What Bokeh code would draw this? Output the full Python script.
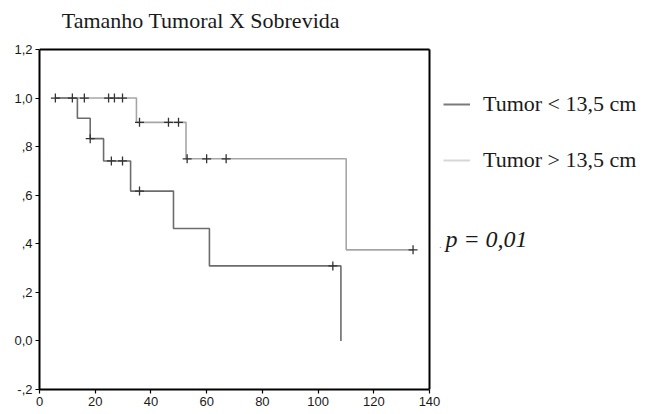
from bokeh.plotting import figure
from bokeh.models import Range1d, FixedTicker, Label, Legend, LegendItem
from bokeh.embed import file_html
from bokeh.resources import INLINE

# ---- data ----
small_time = [5.7, 13.6, 18.2, 23.0, 32.7, 48.1, 61.0, 108.2]
small_surv = [1.0, 0.917, 0.833, 0.741, 0.617, 0.463, 0.309, 0.0]
small_cens_time = [18.2, 25.8, 29.8, 35.9, 105.3]
small_cens_surv = [0.833, 0.741, 0.741, 0.617, 0.309]

large_time = [5.7, 34.8, 52.6, 110.1, 134.1]
large_surv = [1.0, 0.9, 0.75, 0.375, 0.375]
large_cens_time = [5.7, 11.8, 16.1, 24.8, 26.9, 29.8, 35.9, 46.3, 49.9, 53.0, 60.0, 67.0, 134.1]
large_cens_surv = [1.0, 1.0, 1.0, 1.0, 1.0, 1.0, 0.9, 0.9, 0.9, 0.75, 0.75, 0.75, 0.375]

x_ticks = [0, 20, 40, 60, 80, 100, 120, 140]
y_ticks = [-0.2, 0.0, 0.2, 0.4, 0.6, 0.8, 1.0, 1.2]
y_tick_labels = ["-,2", "0,0", ",2", ",4", ",6", ",8", "1,0", "1,2"]
x_min, x_max = 0, 140
y_min, y_max = -0.2, 1.2

title_text = "Tamanho Tumoral X Sobrevida"
label_small = "Tumor < 13,5 cm"
label_large = "Tumor > 13,5 cm"
p_text = "p = 0,01"

DARK = "#6c6c6c"
LIGHT = "#a6a6a6"

# frame extends to the right/top so the legend and texts can live inside it
PX_PER_X = 390 / (x_max - x_min)
PX_PER_Y = 340 / (y_max - y_min)
FRAME_W = 615
FRAME_H = 389
x_end = x_min + FRAME_W / PX_PER_X
y_end = y_min + FRAME_H / PX_PER_Y

p = figure(output_backend="svg", toolbar_location=None,
           frame_width=FRAME_W, frame_height=FRAME_H,
           min_border_left=39, min_border_top=0, min_border_right=0,
           min_border_bottom=24,
           x_range=Range1d(x_min, x_end), y_range=Range1d(y_min, y_end))
p.grid.visible = False
p.outline_line_color = None

for ax in (p.xaxis[0], p.yaxis[0]):
    ax.axis_line_color = "black"
    ax.axis_line_width = 2
    ax.major_tick_line_color = "black"
    ax.major_tick_line_width = 1.2
    ax.major_tick_out = 4
    ax.major_tick_in = 0
    ax.minor_tick_line_color = None
    ax.major_label_text_font = "Liberation Sans"
    ax.major_label_text_font_size = "13px"
    ax.major_label_text_color = "#1a1a1a"
    ax.major_label_standoff = 3

p.xaxis[0].ticker = FixedTicker(ticks=x_ticks)
p.xaxis[0].bounds = (x_min, x_max)
p.yaxis[0].ticker = FixedTicker(ticks=y_ticks)
p.yaxis[0].bounds = (y_min, y_max)
p.yaxis[0].major_label_overrides = {t: l for t, l in zip(y_ticks, y_tick_labels)}

# box top and right edges
p.segment(x0=[x_min, x_max], y0=[y_max, y_min], x1=[x_max, x_max], y1=[y_max, y_max],
          line_color="black", line_width=2)

r_large = p.step(large_time, large_surv, mode="after", line_color=LIGHT, line_width=1.6)
r_small = p.step(small_time, small_surv, mode="after", line_color=DARK, line_width=1.6)
p.scatter(large_cens_time, large_cens_surv, marker="cross", size=9,
          line_color="#333333", line_width=1.3)
p.scatter(small_cens_time, small_cens_surv, marker="cross", size=9,
          line_color="#333333", line_width=1.3)

# legend proxies (placed outside the visible range)
off = [x_end + 50, x_end + 51]
lg_small = p.line(off, [0, 0], line_color="#7a7a7a", line_width=2)
lg_large = p.line(off, [0, 0], line_color="#d6d6d6", line_width=2)
legend = Legend(items=[LegendItem(label=label_small, renderers=[lg_small]),
                       LegendItem(label=label_large, renderers=[lg_large])],
                location=(404, 215), orientation="vertical",
                border_line_alpha=0, background_fill_alpha=0,
                padding=0, margin=0, glyph_width=27, glyph_height=28,
                label_height=28, label_standoff=13, spacing=28,
                label_text_font="Liberation Serif", label_text_font_size="22px",
                label_text_color="#1a1a1a")
p.add_layout(legend, "center")

p.add_layout(Label(x=8.0, y=1.318, text=title_text, text_font="Liberation Serif",
                   text_font_size="22px", text_color="#1a1a1a",
                   text_baseline="middle", text_align="left"))
p.add_layout(Label(x=145.7, y=0.418, text=p_text, text_font="Liberation Serif",
                   text_font_size="24px", text_font_style="italic",
                   text_color="#1a1a1a", text_baseline="middle", text_align="left"))
p.add_layout(Label(x=143.5, y=0.395, text=".", text_font="Liberation Serif",
                   text_font_size="9px", text_color="#555555",
                   text_baseline="middle", text_align="left"))

open("out.html", "w").write(file_html(p, INLINE))
